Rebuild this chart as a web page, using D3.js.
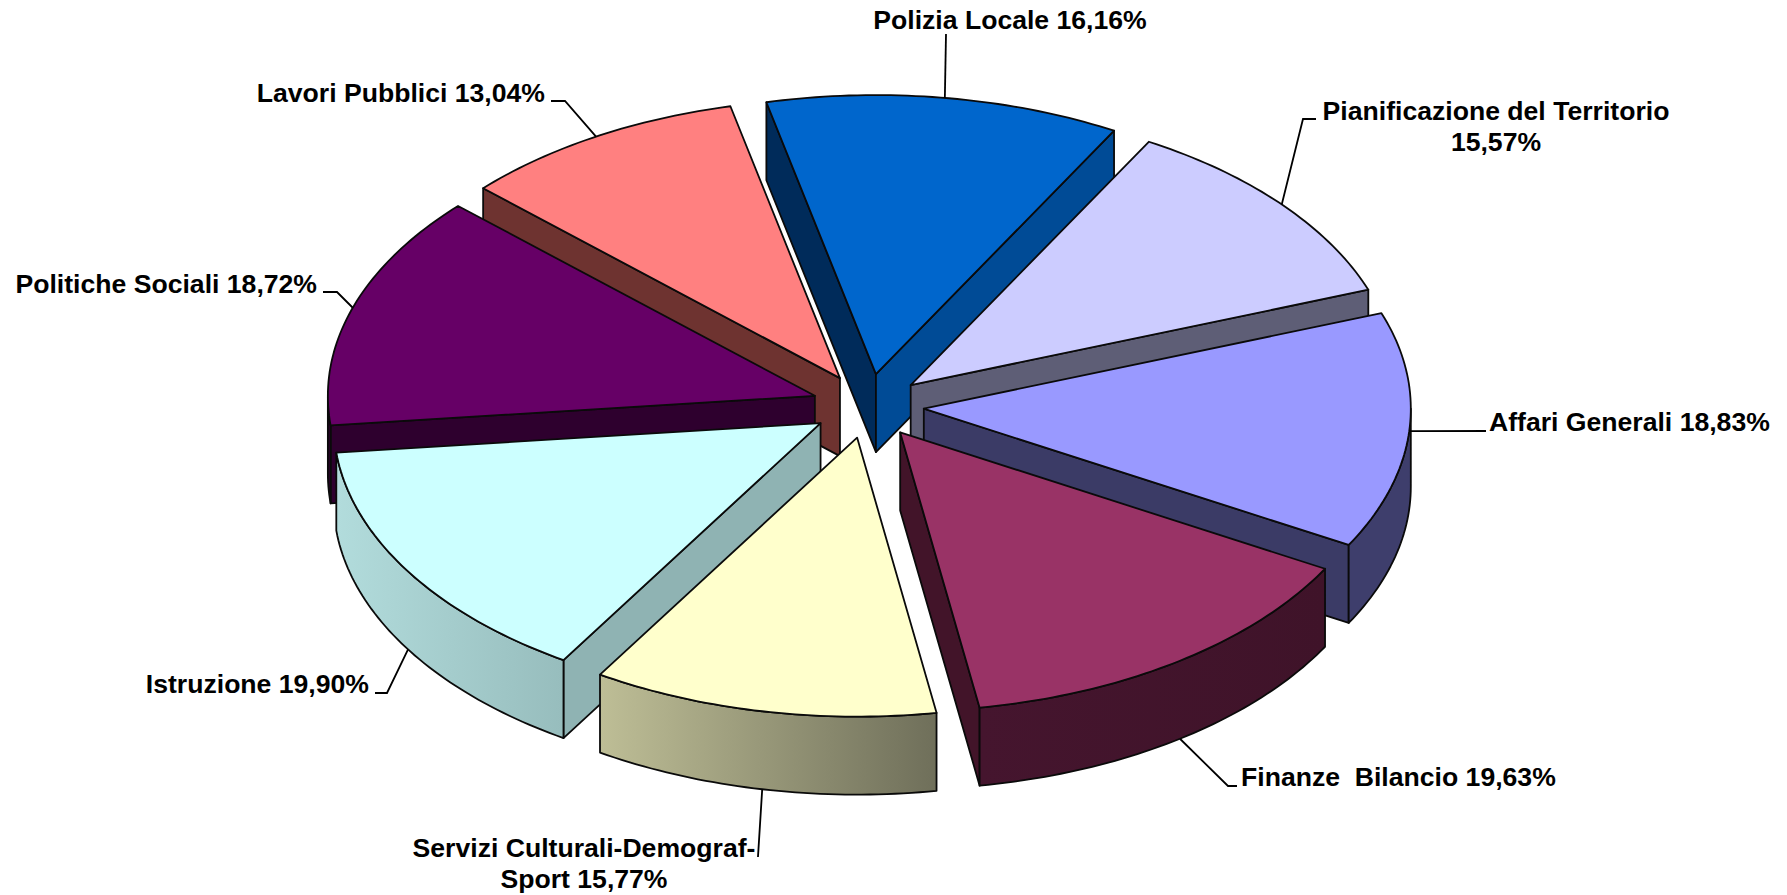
<!DOCTYPE html>
<html>
<head>
<meta charset="utf-8">
<script src="https://cdn.jsdelivr.net/npm/d3@7"></script>
<style>
  html, body { margin: 0; background: #fff; }
  text { font-family: "Liberation Sans", Arial, sans-serif; font-weight: bold; font-size: 26.6px; fill: #000; white-space: pre; }
</style>
</head>
<body>
<div id="chart"></div>
<script>
// Data
const categories = ['Polizia Locale', 'Pianificazione del Territorio', 'Affari Generali', 'Finanze  Bilancio',
  'Servizi Culturali-Demograf-Sport', 'Istruzione', 'Politiche Sociali', 'Lavori Pubblici']
const values = [16.16, 15.57, 18.83, 19.63, 15.77, 19.90, 18.72, 13.04]
const valueLabels = ['16,16%', '15,57%', '18,83%', '19,63%', '15,77%', '19,90%', '18,72%', '13,04%']

// Colours
const topColors = ['#0066cc', '#ccccff', '#9999ff', '#993366', '#ffffcc', '#ccffff', '#660066', '#ff8080']
const startFaceColors = ['#002b5a', '#5e5e76', '#3b3b66', '#421429', '#72725c', '#8fb3b3', '#2e002e', '#6e3330']
const endFaceColors = ['#004b96', '#5e5e76', '#3b3b66', '#421429', '#72725c', '#8fb3b3', '#2e002e', '#6e3330']
const wallLeftColors = ['#004b96', '#5e5e76', '#3e3e6c', '#45152e', '#bebe96', '#b2dcdc', '#2e002e', '#6e3330']
const wallRightColors = ['#004b96', '#5e5e76', '#3e3e6c', '#3f1329', '#6f6f5a', '#97bdbd', '#2e002e', '#6e3330']

// Dimensions
const dimensions = { width: 1787, height: 895, cx: 868, cy: 406, rx: 487, ry: 279, depth: 78, explode: 56 }
const squash = 282 / 490

// Label layout: text lines, anchor, first baseline, and the leader's elbow points
const labelLayout = [
  { lines: ['Polizia Locale 16,16%'], x: 1010, y: 29, anchor: 'middle', elbow: [[946, 34]], wall: false },
  { lines: ['Pianificazione del Territorio', '15,57%'], x: 1496, y: 120, anchor: 'middle', elbow: [[1303, 119], [1316, 119]], wall: false },
  { lines: ['Affari Generali 18,83%'], x: 1489, y: 431, anchor: 'start', elbow: [[1486, 431]], wall: false },
  { lines: ['Finanze  Bilancio 19,63%'], x: 1241, y: 786, anchor: 'start', elbow: [[1228, 786], [1237, 786]], wall: true },
  { lines: ['Servizi Culturali-Demograf-', 'Sport 15,77%'], x: 584, y: 857, anchor: 'middle', elbow: [[758, 857]], wall: true },
  { lines: ['Istruzione 19,90%'], x: 369, y: 693, anchor: 'end', elbow: [[387, 693], [375, 693]], wall: true },
  { lines: ['Politiche Sociali 18,72%'], x: 317, y: 293, anchor: 'end', elbow: [[337, 292], [323, 292]], wall: false },
  { lines: ['Lavori Pubblici 13,04%'], x: 545, y: 102, anchor: 'end', elbow: [[565, 101], [551, 101]], wall: false },
]

const rad = d => d * Math.PI / 180

// Scales
const pie = d3.pie().value(d => d).sort(null).startAngle(rad(-13)).endAngle(rad(347))
const slices = pie(values).map((d, i) => {
  const mid = (d.startAngle + d.endAngle) / 2
  return {
    ...d,
    i,
    mid,
    ax: dimensions.cx + dimensions.explode * Math.sin(mid),
    ay: dimensions.cy - dimensions.explode * squash * Math.cos(mid),
  }
})

const rim = (s, a, z = 0) => [
  s.ax + dimensions.rx * Math.sin(a),
  s.ay - dimensions.ry * Math.cos(a) + z,
]
const arcPoints = (s, a0, a1, z = 0) => {
  const n = Math.max(2, Math.ceil((a1 - a0) / rad(1)))
  return d3.range(n + 1).map(k => rim(s, a0 + (a1 - a0) * k / n, z))
}
const closed = d3.line().curve(d3.curveLinearClosed)
const open = d3.line()

// Draw Image
const svg = d3.select('#chart')
  .append('svg')
  .attr('width', dimensions.width)
  .attr('height', dimensions.height)
  .style('display', 'block')

const defs = svg.append('defs')
slices.forEach(s => {
  const g = defs.append('linearGradient').attr('id', `wall-${s.i}`)
  g.append('stop').attr('offset', 0).attr('stop-color', wallLeftColors[s.i])
  g.append('stop').attr('offset', 1).attr('stop-color', wallRightColors[s.i])
})

const ctr = svg.append('g')
  .attr('stroke', '#0a0a0a')
  .attr('stroke-width', 1.8)
  .attr('stroke-linejoin', 'round')

// back to front
const ordered = slices.slice().sort((a, b) => d3.descending(Math.cos(a.mid), Math.cos(b.mid)))

const sliceGroups = ctr.selectAll('g')
  .data(ordered)
  .join('g')

const cutFace = (s, a) => closed([
  [s.ax, s.ay],
  rim(s, a),
  rim(s, a, dimensions.depth),
  [s.ax, s.ay + dimensions.depth],
])

// a cut face shows only when the slice body lies above its edge
sliceGroups.filter(s => Math.sin(s.startAngle) < 0)
  .append('path')
  .attr('d', s => cutFace(s, s.startAngle))
  .attr('fill', s => startFaceColors[s.i])
sliceGroups.filter(s => Math.sin(s.endAngle) > 0)
  .append('path')
  .attr('d', s => cutFace(s, s.endAngle))
  .attr('fill', s => endFaceColors[s.i])

// outer wall, only the part turned toward the viewer
sliceGroups.filter(s => s.endAngle > rad(90) && s.startAngle < rad(270))
  .append('path')
  .attr('d', s => {
    const a0 = Math.max(s.startAngle, rad(90))
    const a1 = Math.min(s.endAngle, rad(270))
    return closed([...arcPoints(s, a0, a1), ...arcPoints(s, a0, a1, dimensions.depth).reverse()])
  })
  .attr('fill', s => `url(#wall-${s.i})`)

sliceGroups.append('path')
  .attr('d', s => closed([[s.ax, s.ay], ...arcPoints(s, s.startAngle, s.endAngle)]))
  .attr('fill', s => topColors[s.i])

// Leaders
svg.append('g')
  .attr('fill', 'none')
  .attr('stroke', '#000')
  .attr('stroke-width', 1.8)
  .selectAll('path')
  .data(slices)
  .join('path')
  .attr('d', s => open([rim(s, s.mid, labelLayout[s.i].wall ? dimensions.depth : 0), ...labelLayout[s.i].elbow]))

// Labels
svg.append('g')
  .selectAll('text')
  .data(slices)
  .join('text')
  .attr('text-anchor', s => labelLayout[s.i].anchor)
  .attr('data-category', s => categories[s.i])
  .attr('data-value', s => valueLabels[s.i])
  .each(function (s) {
    const l = labelLayout[s.i]
    d3.select(this).selectAll('tspan')
      .data(l.lines)
      .join('tspan')
      .attr('x', l.x)
      .attr('y', (d, k) => l.y + k * 31)
      .text(d => d)
  })
</script>
</body>
</html>
